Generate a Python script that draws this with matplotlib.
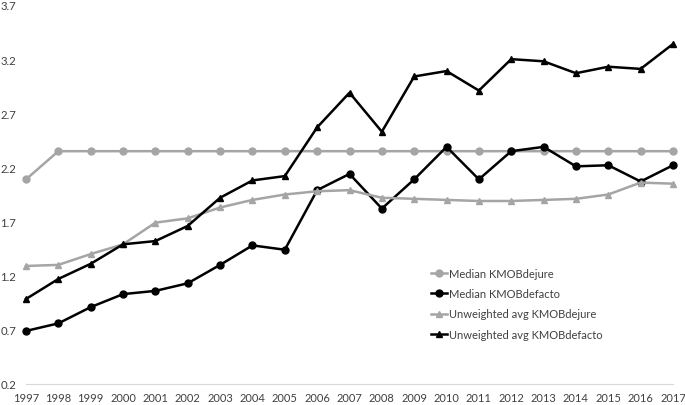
import numpy as np
import matplotlib
matplotlib.use('Agg')
import matplotlib.pyplot as plt

years = list(range(1997, 2018))

median_dejure = [2.09, 2.35, 2.35, 2.35, 2.35, 2.35, 2.35, 2.35, 2.35, 2.35, 2.35,
                 2.35, 2.35, 2.35, 2.35, 2.35, 2.35, 2.35, 2.35, 2.35, 2.35]
median_defacto = [0.69, 0.76, 0.91, 1.03, 1.06, 1.13, 1.30, 1.48, 1.44, 1.99, 2.14,
                  1.82, 2.09, 2.39, 2.09, 2.35, 2.39, 2.21, 2.22, 2.07, 2.22]
avg_dejure = [1.29, 1.30, 1.40, 1.49, 1.69, 1.73, 1.83, 1.90, 1.95, 1.98, 1.99,
              1.92, 1.91, 1.90, 1.89, 1.89, 1.90, 1.91, 1.95, 2.06, 2.05]
avg_defacto = [0.985, 1.17, 1.31, 1.49, 1.52, 1.66, 1.92, 2.08, 2.12, 2.57, 2.89,
               2.53, 3.04, 3.09, 2.91, 3.20, 3.18, 3.07, 3.13, 3.11, 3.34]

yticks = [0.2, 0.7, 1.2, 1.7, 2.2, 2.7, 3.2, 3.7]

plt.rcParams['font.family'] = ['Lato', 'DejaVu Sans']

gray = '#A5A5A5'
black = '#000000'

fig = plt.figure(figsize=(6.85, 4.06), dpi=100)
ax = fig.add_axes([26 / 685, 21 / 406, 647 / 685, 379 / 406])

series = [
    (median_dejure, gray, 'o', 'Median KMOBdejure'),
    (median_defacto, black, 'o', 'Median KMOBdefacto'),
    (avg_dejure, gray, '^', 'Unweighted avg KMOBdejure'),
    (avg_defacto, black, '^', 'Unweighted avg KMOBdefacto'),
]
for vals, col, mk, lab in series:
    ax.plot(years, vals, color=col, marker=mk, markersize=5, linewidth=1.8,
            label=lab, clip_on=False, zorder=3)

ax.set_xlim(1997, 2017)
ax.set_ylim(0.2, 3.7)
ax.set_xticks(years)
ax.set_xticklabels([str(y) for y in years])
ax.set_yticks(yticks)
ax.set_yticklabels([f'{v:.1f}' for v in yticks], ha='left')

for s in ['top', 'right', 'left']:
    ax.spines[s].set_visible(False)
ax.spines['bottom'].set_color('#D9D9D9')
ax.spines['bottom'].set_linewidth(0.8)
ax.tick_params(axis='both', length=0, labelsize=8.2, colors='#404040')
ax.tick_params(axis='x', labelsize=8.0, pad=6)
ax.tick_params(axis='y', pad=18.3)

ax.legend(loc='upper left', bbox_to_anchor=(425 / 685, 1 - 263 / 406),
          bbox_transform=fig.transFigure, frameon=False, fontsize=8,
          handlelength=1.5, handletextpad=0.2, labelspacing=0.85,
          labelcolor='#404040', borderpad=0)

fig.savefig('out.png', dpi=100)
